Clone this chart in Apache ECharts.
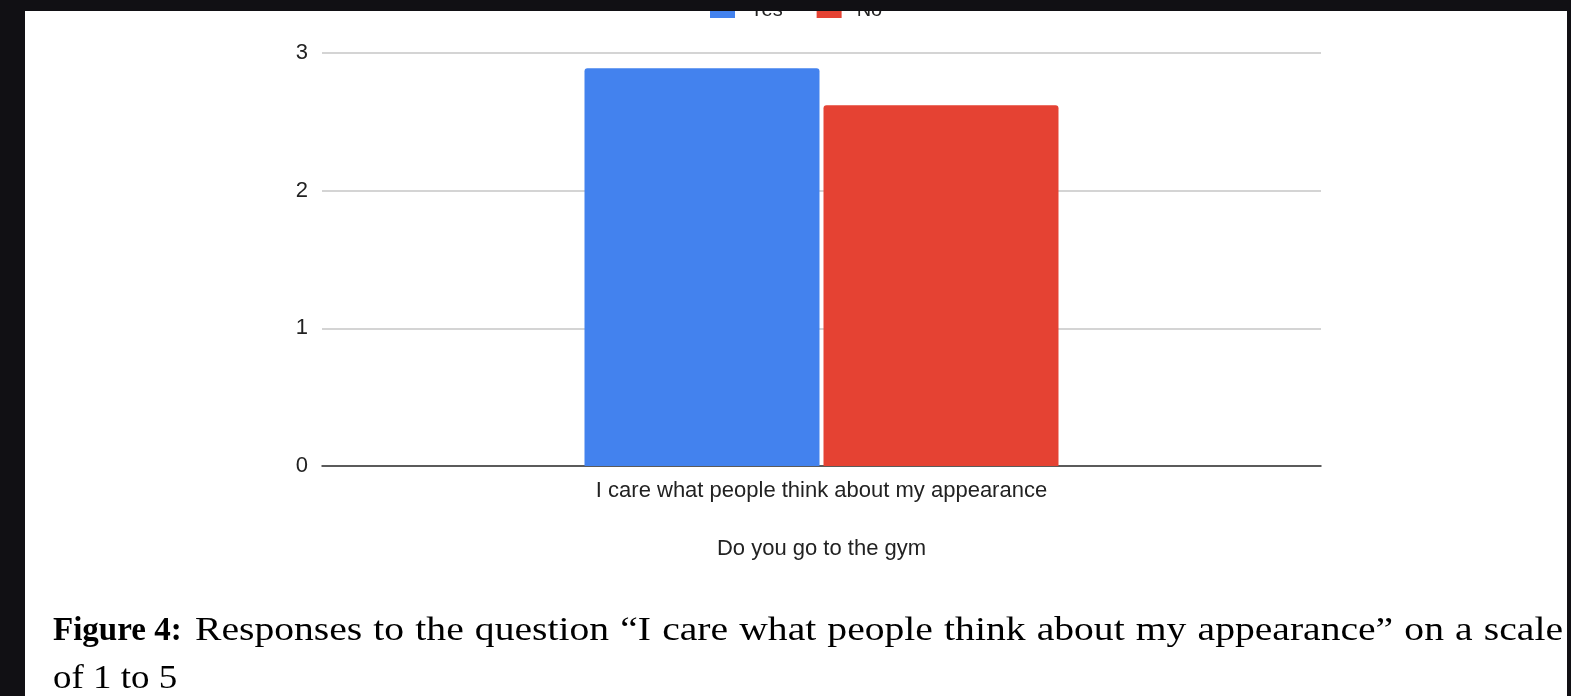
<!DOCTYPE html>
<html>
<head>
<meta charset="utf-8">
<script src="https://cdn.jsdelivr.net/npm/echarts@6/dist/echarts.min.js"></script>
<style>html,body{margin:0;padding:0;background:#111014;}#c{width:1571px;height:696px;}</style>
</head>
<body>
<div id="c"></div>
<script>
const categories = ["I care what people think about my appearance"];
const seriesNames = ["Yes", "No"];
const yesValues = [2.89];
const noValues = [2.62];
const yTicks = [0, 1, 2, 3];
const captionLabel = "Figure 4:";
const captionLine1 = "Responses to the question \u201cI care what people think about my appearance\u201d on a scale";
const captionLine2 = "of 1 to 5";

// caption layout (justified first line)
const regFont = '33px "Liberation Serif"';
const boldFont = 'bold 33px "Liberation Serif"';
const line1Scale = 1.2, line2Scale = 1.12;
const line1Start = 195, line1End = 1563, line1Y = 631, line2Y = 679, capLeft = 53;
const ctx = document.createElement('canvas').getContext('2d');
function textW(t, f) { ctx.font = f; return ctx.measureText(t).width; }
const words = captionLine1.split(' ');
const wordW = words.map(t => textW(t, regFont) * line1Scale);
const totalW = wordW.reduce((a, b) => a + b, 0);
const gap = (line1End - line1Start - totalW) / (words.length - 1);
const captionEls = [];
captionEls.push({ type: 'text', z: 100, x: capLeft, y: line1Y,
  style: { text: captionLabel, font: boldFont, fill: '#000', verticalAlign: 'middle' } });
let cx = line1Start;
words.forEach((t, i) => {
  captionEls.push({ type: 'text', z: 100, x: cx, y: line1Y, scaleX: line1Scale,
    style: { text: t, font: regFont, fill: '#000', verticalAlign: 'middle' } });
  cx += wordW[i] + gap;
});
captionEls.push({ type: 'text', z: 100, x: capLeft, y: line2Y, scaleX: line2Scale,
  style: { text: captionLine2, font: regFont, fill: '#000', verticalAlign: 'middle' } });

const chart = echarts.init(document.getElementById('c'));
chart.setOption({
  backgroundColor: '#ffffff',
  animation: false,
  legend: {
    data: seriesNames,
    top: 0,
    left: 710,
    padding: 0,
    itemWidth: 25,
    itemHeight: 16,
    itemGap: 34,
    textStyle: { fontFamily: 'Liberation Sans', fontSize: 20, color: '#222', padding: [0, 0, 0, 10] },
    icon: 'rect'
  },
  grid: { left: 322, right: 250, top: 53, bottom: 230 },
  xAxis: {
    type: 'category',
    data: categories,
    name: 'Do you go to the gym',
    nameLocation: 'middle',
    nameGap: 72,
    nameTextStyle: { fontFamily: 'Liberation Sans', fontSize: 22, color: '#222' },
    axisLine: { lineStyle: { color: '#333', width: 1.5 } },
    axisTick: { show: false },
    axisLabel: { fontFamily: 'Liberation Sans', fontSize: 22, color: '#222', margin: 14 }
  },
  yAxis: {
    type: 'value',
    min: yTicks[0],
    max: yTicks[yTicks.length - 1],
    interval: 1,
    axisLine: { show: false },
    axisTick: { show: false },
    axisLabel: { fontFamily: 'Liberation Sans', fontSize: 22, color: '#222', margin: 14 },
    splitLine: { lineStyle: { color: '#d4d4d4', width: 2 } }
  },
  series: [
    { name: seriesNames[0], type: 'bar', data: yesValues, barWidth: 235, barGap: '1.7%',
      itemStyle: { color: '#4382ee', borderRadius: [3, 3, 0, 0] } },
    { name: seriesNames[1], type: 'bar', data: noValues, barWidth: 235,
      itemStyle: { color: '#e54233', borderRadius: [3, 3, 0, 0] } }
  ],
  graphic: [
    { type: 'rect', z: 100, shape: { x: 0, y: 0, width: 1571, height: 11 }, style: { fill: '#111014' } },
    { type: 'rect', z: 100, shape: { x: 0, y: 0, width: 25, height: 696 }, style: { fill: '#111014' } },
    { type: 'rect', z: 100, shape: { x: 1567, y: 0, width: 4, height: 696 }, style: { fill: '#111014' } }
  ].concat(captionEls)
});
</script>
</body>
</html>
